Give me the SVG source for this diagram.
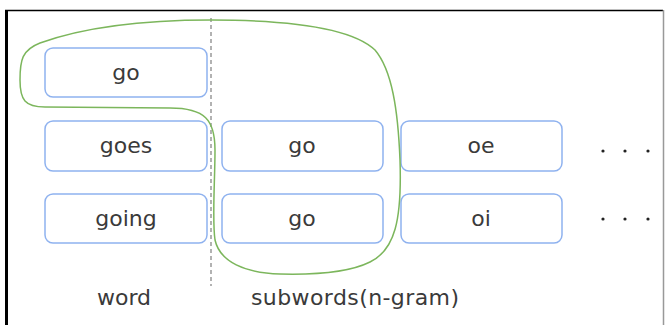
<svg xmlns="http://www.w3.org/2000/svg" width="665" height="325" viewBox="0 0 665 325">
<style>
.box{fill:#ffffff;stroke:#8fb2ef;stroke-width:1.5}
.t{font-family:"DejaVu Sans",Verdana,sans-serif;font-size:22px;fill:#3a3a3a;text-anchor:middle}
.dot{fill:#222222}
</style>
<rect x="0" y="0" width="665" height="325" fill="#ffffff"/>
<line x1="6.5" y1="10" x2="6.5" y2="325" stroke="#000" stroke-width="3"/>
<line x1="5" y1="10.5" x2="663" y2="10.5" stroke="#000" stroke-width="1.5"/>
<line x1="663.5" y1="10" x2="663.5" y2="325" stroke="#999" stroke-width="1.5"/>
<line x1="211" y1="18" x2="211" y2="286" stroke="#999" stroke-width="1.5" stroke-dasharray="4 3"/>
<g id="w-go"><rect class="box" x="45" y="48" width="162" height="49" rx="8"/><text class="t" x="126" y="80">go</text></g>
<g id="w-goes"><rect class="box" x="45" y="121" width="162" height="50" rx="8"/><text class="t" x="126" y="153">goes</text></g>
<g id="w-going"><rect class="box" x="45" y="194" width="162" height="49" rx="8"/><text class="t" x="126" y="226">going</text></g>
<g id="s-go1"><rect class="box" x="222" y="121" width="161" height="50" rx="8"/><text class="t" x="302" y="153">go</text></g>
<g id="s-go2"><rect class="box" x="222" y="194" width="161" height="49" rx="8"/><text class="t" x="302" y="226">go</text></g>
<g id="s-oe"><rect class="box" x="401" y="121" width="161" height="50" rx="8"/><text class="t" x="481" y="153">oe</text></g>
<g id="s-oi"><rect class="box" x="401" y="194" width="161" height="49" rx="8"/><text class="t" x="481" y="226">oi</text></g>
<g id="dots1"><circle class="dot" cx="603" cy="151" r="1.6"/><circle class="dot" cx="625" cy="151" r="1.6"/><circle class="dot" cx="648" cy="151" r="1.6"/></g>
<g id="dots2"><circle class="dot" cx="603" cy="219" r="1.6"/><circle class="dot" cx="625" cy="219" r="1.6"/><circle class="dot" cx="648" cy="219" r="1.6"/></g>
<g id="connectors">
<path d="M 211 20 C 280 20, 350 26, 375 50 C 392 70, 398 110, 400 160 C 402 220, 395 250, 370 262 C 350 272, 320 275, 280 274 C 245 273, 220 262, 215 240 C 212 220, 215 180, 215 150 C 215 120, 205 108, 170 108 L 45 107 C 25 107, 20 100, 20 80 C 20 60, 22 50, 40 43 C 90 25, 150 20, 211 20 Z" fill="none" stroke="#7cb65c" stroke-width="1.5"/>
</g>
<text class="t" x="124" y="305">word</text>
<text class="t" x="355" y="305" textLength="208" lengthAdjust="spacing">subwords(n-gram)</text>
</svg>
